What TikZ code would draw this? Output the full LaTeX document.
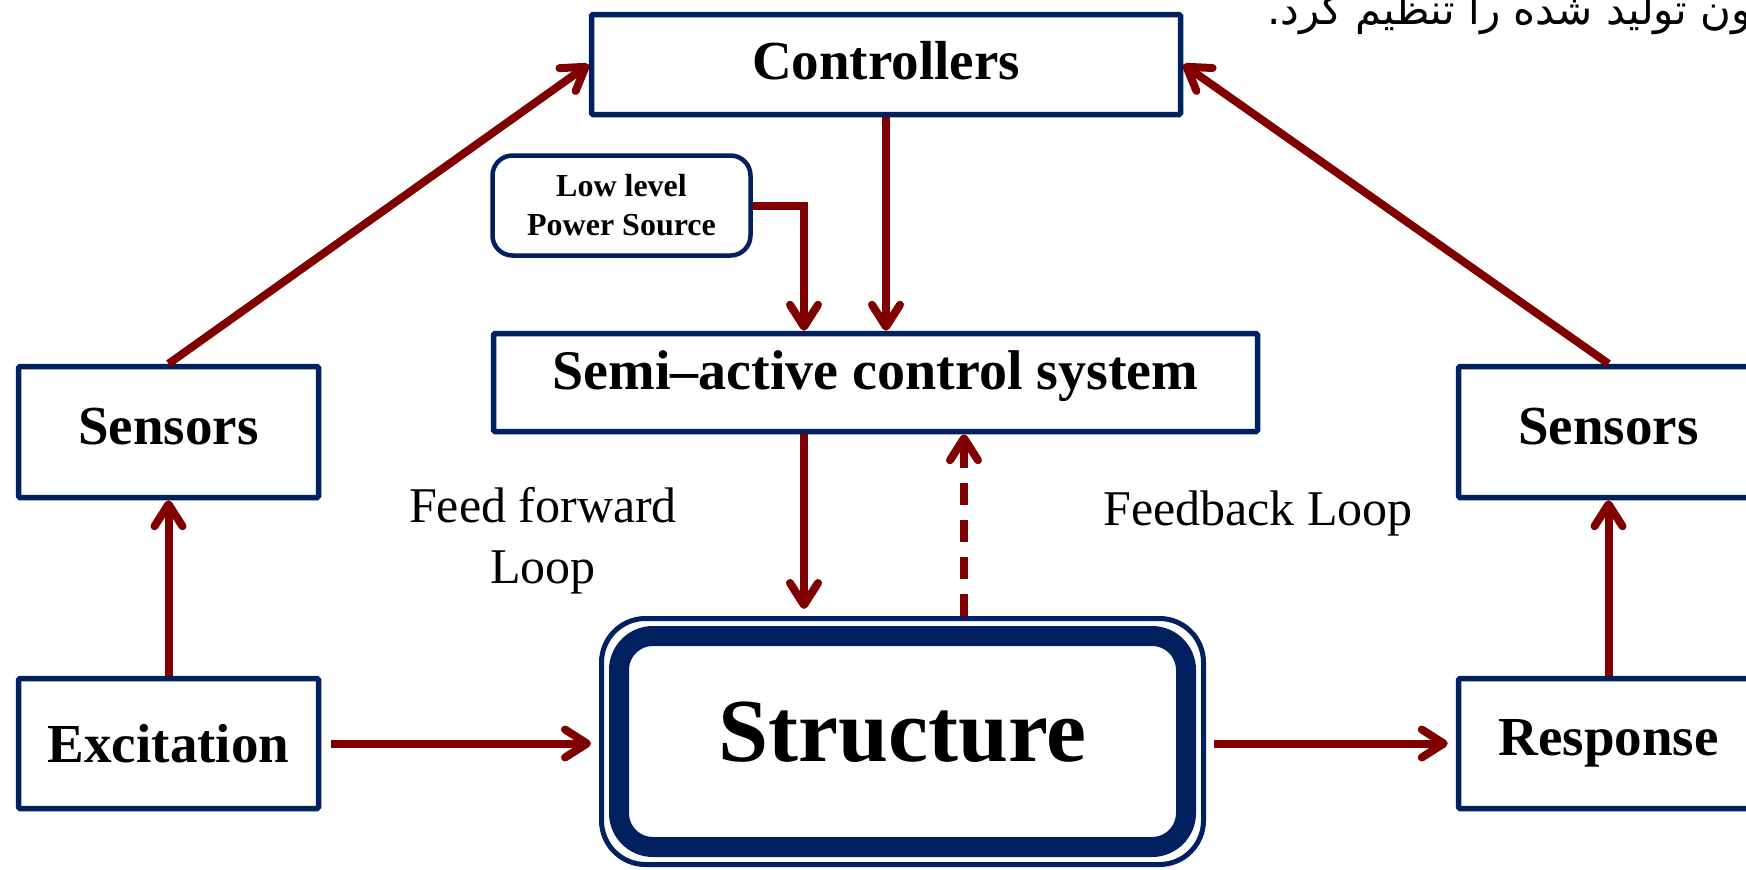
\documentclass[tikz,border=0pt]{standalone}
\usepackage{fontspec}
\setmainfont{Liberation Serif}
\newfontfamily\farsi[Script=Arabic]{DejaVu Sans}
\TeXXeTstate=1
\usetikzlibrary{arrows.meta,calc}
\definecolor{navy}{RGB}{0,32,96}
\definecolor{dred}{RGB}{128,0,0}
\begin{document}
\begin{tikzpicture}[x=1pt,y=-1pt,
  box/.style={draw=navy, line width=5.5pt, rounded corners=1.5pt, fill=white, inner sep=0pt,
    font=\bfseries\fontsize{55}{60}\selectfont},
  arr/.style={draw=dred, line width=8pt, -{Straight Barb[length=22pt,width=28pt,round]}},
  lbl/.style={inner sep=0pt, font=\fontsize{50}{61}\selectfont, align=center}
]
\useasboundingbox (0,0) rectangle (1746,870);
\clip (0,0) rectangle (1746,870);

% Persian fragment at top
\node[anchor=base east, inner sep=0pt, font=\farsi\fontsize{42}{46}\selectfont] (fa) at (1752,24)
  {\beginR ون تولید شده را تنظیم کرد.\endR};

% boxes
\node[box, minimum width=589pt, minimum height=100pt, text height=40pt, text depth=11pt] (ctrl) at (886,64.5) {Controllers};
\node[box, line width=4.5pt, rounded corners=20pt, minimum width=258pt, minimum height=100pt,
  align=center, font=\bfseries\fontsize{32}{39}\selectfont] (low) at (621.5,205.5) {Low level\\Power Source};
\node[box, minimum width=764pt, minimum height=98pt, text height=40pt, text depth=27pt,
  font=\bfseries\fontsize{56}{60}\selectfont] (semi) at (875.5,382.5)
  {Semi–active control system};
\node[box, minimum width=300pt, minimum height=131pt, text height=40pt, text depth=15pt] (sensL) at (168.5,432) {Sensors};
\node[box, minimum width=300pt, minimum height=131pt, text height=40pt, text depth=15pt] (sensR) at (1608.5,432) {Sensors};
\node[box, minimum width=300pt, minimum height=130pt] (exc) at (168.5,743.5) {Excitation};
\node[box, minimum width=300pt, minimum height=130pt] (resp) at (1608.5,743.5) {Response};

% structure
\node[draw=navy, line width=5pt, rounded corners=44pt, fill=white, minimum width=602pt, minimum height=246pt,
  inner sep=0pt, text height=60pt, text depth=21pt, font=\bfseries\fontsize{90}{95}\selectfont]
  (struct) at (902.5,741.5) {Structure};
\node[draw=navy, line width=20pt, rounded corners=34pt, minimum width=567pt, minimum height=211pt,
  inner sep=0pt] (band) at (struct.center) {};

% loop labels
\node[lbl] (ff) at (543,541) {Feed forward\\Loop};
\node[lbl] (fb) at (1258,513) {Feedback Loop};

% connectors
\draw[arr, shorten <=10pt, shorten >=8pt] (exc.east) -- (exc.east -| struct.west);
\draw[arr, shorten <=8pt, shorten >=8pt] (struct.east |- resp.west) -- (resp.west);
\draw[arr] (exc.north) -- (sensL.south);
\draw[arr] (resp.north) -- (sensR.south);
\draw[arr] (sensL.north) -- (ctrl.west);
\draw[arr] (sensR.north) -- (ctrl.east);
\draw[arr] (ctrl.south) -- (ctrl.south |- semi.north);
\draw[arr] (low.east) -| ([xshift=-71.5pt]semi.north);
\draw[arr, shorten >=7pt] ([xshift=-71.5pt]semi.south) -- ([xshift=-71.5pt]semi.south |- struct.north);
\draw[arr, dash pattern=on 22pt off 15pt] ([xshift=61.5pt]struct.north) -- ([xshift=61.5pt]struct.north |- semi.south);
\end{tikzpicture}
\end{document}
